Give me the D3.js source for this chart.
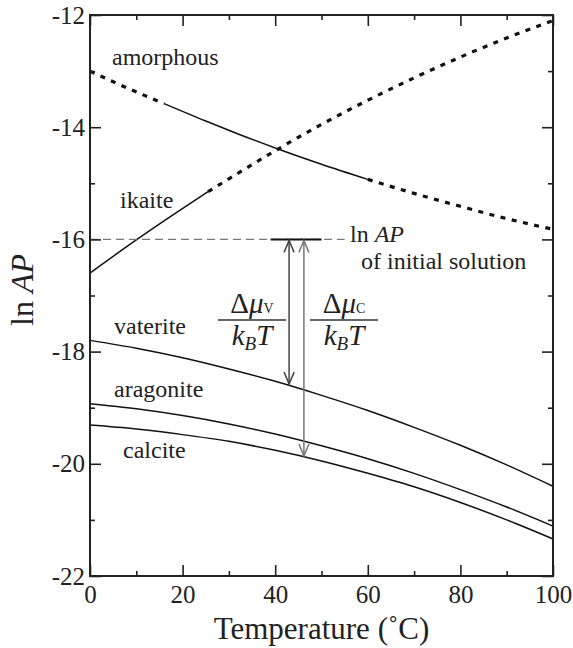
<!DOCTYPE html>
<html lang="en">
<head>
<meta charset="utf-8">
<style>
  body { margin: 0; background: #fff; }
  text { font-family: "Liberation Serif", "Times New Roman", serif; fill: #222; }
</style>
</head>
<body>
<script src="https://d3js.org/d3.v7.min.js"></script>
<div id="chart"></div>
<script>
// temperatures (deg C) and ln AP values
var amorT = [0, 8, 16, 25, 32, 40, 50, 60, 70, 80, 90, 100];
var amorV = [-13.0, -13.3, -13.58, -13.89, -14.12, -14.37, -14.66, -14.93, -15.18, -15.41, -15.63, -15.82];
var amorSolid = [16, 60];

var ikaT = [0, 10, 18, 25.5, 30, 40, 50, 60, 70, 80, 90, 100];
var ikaV = [-16.6, -16.01, -15.56, -15.15, -14.92, -14.42, -13.95, -13.52, -13.12, -12.75, -12.41, -12.1];
var ikaSolid = [0, 25.5];

var tempGrid = [0, 10, 20, 30, 40, 50, 60, 70, 80, 90, 100];
var vaterite = [-17.8, -17.94, -18.11, -18.31, -18.53, -18.78, -19.05, -19.35, -19.67, -20.02, -20.4];
var aragonite = [-18.93, -19.02, -19.14, -19.29, -19.47, -19.68, -19.91, -20.17, -20.46, -20.77, -21.11];
var calcite = [-19.31, -19.38, -19.48, -19.60, -19.76, -19.95, -20.17, -20.41, -20.69, -21.0, -21.34];

var initLevel = -16;
var initSolid = [39, 50];
var initDashEnd = 55;
var arrowT = [43, 46.2];
var arrowBottom = [-18.58, -19.86];

var xTicks = [0, 20, 40, 60, 80, 100];
var yTicks = [-22, -20, -18, -16, -14, -12];

var W = 573, H = 648;
var svg = d3.select("#chart").append("svg").attr("width", W).attr("height", H);

var x = d3.scaleLinear().domain([0, 100]).range([90, 553]);
var y = d3.scaleLinear().domain([-22, -12]).range([576, 15]);

var line = d3.line().x(function (d) { return x(d[0]); }).y(function (d) { return y(d[1]); }).curve(d3.curveMonotoneX);

function pts(T, V) { return T.map(function (t, i) { return [t, V[i]]; }); }

function drawPart(T, V, lo, hi, dotted) {
    var p = pts(T, V).filter(function (d) { return d[0] >= lo && d[0] <= hi; });
    var path = svg.append("path").datum(p).attr("d", line)
        .attr("fill", "none").attr("stroke", "#111");
    if (dotted) path.attr("stroke-width", 3.2).attr("stroke-dasharray", "5,6.5");
    else path.attr("stroke-width", 1.5);
}

// amorphous: dotted, solid, dotted
drawPart(amorT, amorV, 0, amorSolid[0], true);
drawPart(amorT, amorV, amorSolid[0], amorSolid[1], false);
drawPart(amorT, amorV, amorSolid[1], 100, true);
// ikaite: solid then dotted
drawPart(ikaT, ikaV, ikaSolid[0], ikaSolid[1], false);
drawPart(ikaT, ikaV, ikaSolid[1], 100, true);

[vaterite, aragonite, calcite].forEach(function (s) {
    svg.append("path").datum(pts(tempGrid, s)).attr("d", line)
        .attr("fill", "none").attr("stroke", "#111").attr("stroke-width", 1.5);
});

// ln AP of initial solution
svg.append("line").attr("x1", x(0)).attr("x2", x(initDashEnd)).attr("y1", y(initLevel)).attr("y2", y(initLevel))
    .attr("stroke", "#777").attr("stroke-width", 1.3).attr("stroke-dasharray", "8,5");
svg.append("line").attr("x1", x(initSolid[0])).attr("x2", x(initSolid[1])).attr("y1", y(initLevel)).attr("y2", y(initLevel))
    .attr("stroke", "#111").attr("stroke-width", 2);

// double arrows
var arrowCol = ["#444", "#777"];
arrowT.forEach(function (t, i) {
    var ax = x(t), y0 = y(initLevel) + 1, y1 = y(arrowBottom[i]);
    var g = svg.append("g").attr("stroke", arrowCol[i]).attr("stroke-width", 1.5).attr("fill", "none");
    g.append("line").attr("x1", ax).attr("x2", ax).attr("y1", y0).attr("y2", y1);
    g.append("path").attr("d", "M" + (ax - 5) + "," + (y0 + 12) + "L" + ax + "," + y0 + "L" + (ax + 5) + "," + (y0 + 12));
    g.append("path").attr("d", "M" + (ax - 5) + "," + (y1 - 12) + "L" + ax + "," + y1 + "L" + (ax + 5) + "," + (y1 - 12));
});

// fractions
function fraction(cx, sub) {
    var num = svg.append("text").attr("x", cx).attr("y", 313).attr("text-anchor", "middle").style("font-size", "29px");
    num.append("tspan").text("Δ");
    num.append("tspan").style("font-style", "italic").text("μ");
    num.append("tspan").style("font-size", "14px").text(sub);
    svg.append("line").attr("x1", cx - 34).attr("x2", cx + 34).attr("y1", 320).attr("y2", 320)
        .attr("stroke", "#333").attr("stroke-width", 1.3);
    var den = svg.append("text").attr("x", cx).attr("y", 345).attr("text-anchor", "middle").style("font-size", "29px")
        .style("font-style", "italic");
    den.append("tspan").text("k");
    den.append("tspan").style("font-size", "19px").attr("dy", 5).text("B");
    den.append("tspan").attr("dy", -5).text("T");
}
fraction(252, "V");
fraction(344, "C");

// frame and ticks
var frame = svg.append("g");
frame.append("rect").attr("x", x(0)).attr("y", y(-12)).attr("width", x(100) - x(0)).attr("height", y(-22) - y(-12))
    .attr("fill", "none").attr("stroke", "#222").attr("stroke-width", 2);

var xMinor = d3.range(10, 100, 20);
var yMinor = d3.range(-21, -12, 2);

function tickGroup(axis, tr) {
    var g = svg.append("g").attr("transform", tr).call(axis);
    g.select(".domain").remove();
    g.selectAll(".tick line").attr("stroke", "#222").attr("stroke-width", 1.6);
    return g;
}

var bx = tickGroup(d3.axisBottom(x).tickValues(xTicks).tickSize(-11).tickPadding(9).tickFormat(d3.format("d")), "translate(0," + y(-22) + ")");
bx.selectAll("text").style("font-size", "25px").attr("fill", "#222").style("font-family", "Liberation Serif");
tickGroup(d3.axisBottom(x).tickValues(xMinor).tickSize(-5).tickFormat(""), "translate(0," + y(-22) + ")");
tickGroup(d3.axisTop(x).tickValues(xTicks).tickSize(-11).tickFormat(""), "translate(0," + y(-12) + ")");
tickGroup(d3.axisTop(x).tickValues(xMinor).tickSize(-5).tickFormat(""), "translate(0," + y(-12) + ")");

var ly = tickGroup(d3.axisLeft(y).tickValues(yTicks).tickSize(-11).tickPadding(5).tickFormat(d3.format("d")), "translate(" + x(0) + ",0)");
ly.selectAll("text").style("font-size", "25px").attr("fill", "#222").style("font-family", "Liberation Serif")
    .text(function (d) { return "-" + Math.abs(d); });
tickGroup(d3.axisLeft(y).tickValues(yMinor).tickSize(-5).tickFormat(""), "translate(" + x(0) + ",0)");
tickGroup(d3.axisRight(y).tickValues(yTicks).tickSize(-11).tickFormat(""), "translate(" + x(100) + ",0)");
tickGroup(d3.axisRight(y).tickValues(yMinor).tickSize(-5).tickFormat(""), "translate(" + x(100) + ",0)");

// labels
function label(t, px, py, size) {
    return svg.append("text").attr("x", px).attr("y", py).style("font-size", (size || 24) + "px").text(t);
}
label("amorphous", 112, 65);
label("ikaite", 120, 208);
label("vaterite", 114, 334);
label("aragonite", 114, 397);
label("calcite", 123, 458);

var lnap = svg.append("text").attr("x", 350).attr("y", 242).style("font-size", "24px");
lnap.append("tspan").text("ln ");
lnap.append("tspan").style("font-style", "italic").text("AP");
label("of initial solution", 361, 269);

// axis titles
svg.append("text").attr("x", x(50)).attr("y", 639).attr("text-anchor", "middle").style("font-size", "31px")
    .text("Temperature (˚C)");
var yt = svg.append("text").attr("transform", "translate(33," + 290 + ") rotate(-90)").attr("text-anchor", "middle")
    .style("font-size", "32px");
yt.append("tspan").text("ln ");
yt.append("tspan").style("font-style", "italic").text("AP");
</script>
</body>
</html>
